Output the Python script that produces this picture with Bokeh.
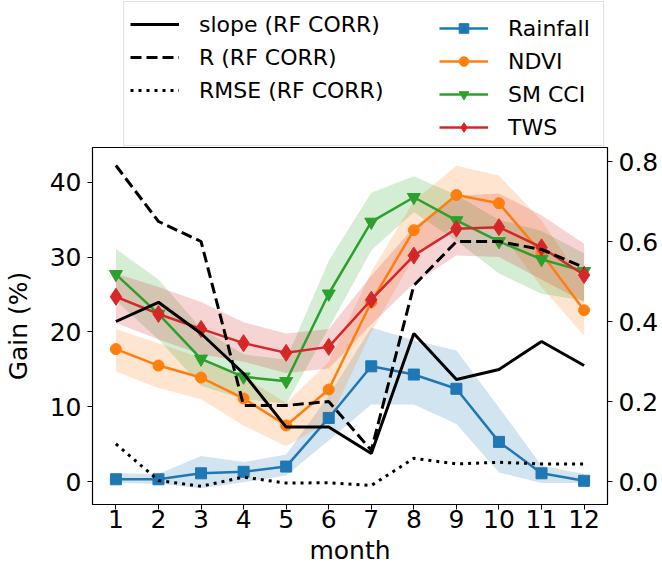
from bokeh.plotting import figure
from bokeh.layouts import column
from bokeh.models import (Range1d, LinearAxis, FixedTicker, NumeralTickFormatter,
                          Legend, LegendItem)
from bokeh.embed import file_html
from bokeh.resources import INLINE

months = [1, 2, 3, 4, 5, 6, 7, 8, 9, 10, 11, 12]

# Gain (%) series (left axis) with uncertainty bands
rainfall = [0.3, 0.3, 1.1, 1.3, 2.0, 8.5, 15.4, 14.3, 12.4, 5.3, 1.1, 0.1]
rainfall_hi = [1.1, 1.0, 3.4, 2.6, 3.6, 11.5, 20.6, 18.9, 17.5, 9.9, 2.1, 1.0]
rainfall_lo = [-0.2, -0.3, -0.9, -0.1, 0.8, 5.5, 10.3, 10.3, 7.7, 1.2, -0.2, -0.2]

ndvi = [17.7, 15.5, 13.9, 11.1, 7.5, 12.3, 24.0, 33.6, 38.3, 37.2, 30.5, 22.9]
ndvi_hi = [20.4, 18.5, 16.5, 14.0, 10.5, 16.0, 28.0, 37.5, 42.2, 40.9, 34.9, 26.5]
ndvi_lo = [14.7, 12.5, 11.0, 7.5, 4.7, 8.0, 20.0, 30.0, 34.5, 33.5, 26.0, 19.5]

smcci = [27.7, 22.4, 16.4, 14.0, 13.4, 25.1, 34.7, 38.0, 34.9, 32.1, 29.7, 28.1]
smcci_hi = [31.1, 27.0, 20.5, 17.0, 16.3, 29.5, 38.6, 40.8, 38.3, 35.0, 33.5, 30.5]
smcci_lo = [24.2, 19.0, 12.8, 11.0, 10.4, 20.5, 30.9, 36.0, 32.2, 27.8, 25.1, 24.2]

tws = [24.7, 22.4, 20.4, 18.5, 17.2, 18.0, 24.3, 30.2, 33.8, 34.0, 31.3, 27.6]
tws_hi = [27.8, 26.0, 24.0, 21.3, 19.8, 20.4, 27.5, 34.0, 38.2, 38.5, 35.6, 31.8]
tws_lo = [21.2, 19.0, 17.0, 16.0, 14.5, 15.1, 21.0, 26.5, 30.2, 30.0, 27.0, 24.0]

# RF CORR metrics (right axis)
slope = [0.40, 0.448, 0.37, 0.27, 0.136, 0.136, 0.07, 0.37, 0.255, 0.28, 0.35, 0.29]
r_corr = [0.79, 0.65, 0.60, 0.19, 0.19, 0.20, 0.078, 0.49, 0.60, 0.60, 0.58, 0.535]
rmse = [0.094, 0.0025, -0.012, 0.011, -0.004, -0.003, -0.01, 0.058, 0.044, 0.048, 0.044, 0.044]

left_ticks = [0, 10, 20, 30, 40]
right_ticks = [0.0, 0.2, 0.4, 0.6, 0.8]

FONT = "DejaVu Sans"
C_BLUE, C_ORANGE, C_GREEN, C_RED = "#1f77b4", "#ff7f0e", "#2ca02c", "#d62728"

series = [
    ("Rainfall", rainfall, rainfall_lo, rainfall_hi, C_BLUE, "square", 11),
    ("NDVI", ndvi, ndvi_lo, ndvi_hi, C_ORANGE, "circle", 11),
    ("SM CCI", smcci, smcci_lo, smcci_hi, C_GREEN, "inverted_triangle", 13),
    ("TWS", tws, tws_lo, tws_hi, C_RED, "diamond", 17),
]
black_lines = [
    ("slope (RF CORR)", slope, None),
    ("R (RF CORR)", r_corr, "11 5"),
    ("RMSE (RF CORR)", rmse, "3 5"),
]

TOP_H = 146

# ---------------- main chart ----------------
p = figure(width=662, height=568 - TOP_H, output_backend="svg", toolbar_location=None,
           x_range=Range1d(0.45, 12.55), y_range=Range1d(-3.07, 44.65),
           min_border_left=92, min_border_right=55, min_border_top=1,
           min_border_bottom=64)
p.extra_y_ranges = {"right": Range1d(-0.0575, 0.835)}
p.grid.visible = False
p.outline_line_color = "black"
p.outline_line_width = 1.2
p.background_fill_color = "white"
p.border_fill_color = "white"

for ax in (p.xaxis[0], p.yaxis[0]):
    ax.major_label_text_font = FONT
    ax.major_label_text_font_size = "25px"
    ax.major_label_text_color = "#000000"
    ax.axis_label_text_font = FONT
    ax.axis_label_text_font_size = "25px"
    ax.axis_label_text_font_style = "normal"
    ax.axis_label_text_color = "#000000"
    ax.minor_tick_line_color = None
    ax.major_tick_out = 5
    ax.major_tick_in = 0
    ax.major_tick_line_color = "black"
    ax.axis_line_color = "black"

p.xaxis.ticker = FixedTicker(ticks=months)
p.xaxis.axis_label = "month"
p.xaxis.major_label_standoff = 0
p.xaxis.axis_label_standoff = 5

p.yaxis.ticker = FixedTicker(ticks=left_ticks)
p.yaxis.axis_label = "Gain (%)"
p.yaxis.major_label_standoff = 6
p.yaxis.axis_label_standoff = 14

right_axis = LinearAxis(y_range_name="right",
                        ticker=FixedTicker(ticks=right_ticks),
                        formatter=NumeralTickFormatter(format="0.0"))
right_axis.major_label_text_font = FONT
right_axis.major_label_text_font_size = "25px"
right_axis.major_label_text_color = "#000000"
right_axis.minor_tick_line_color = None
right_axis.major_tick_out = 5
right_axis.major_tick_in = 0
right_axis.major_label_standoff = 6
right_axis.axis_line_color = "black"
p.add_layout(right_axis, "right")

for name, vals, lo, hi, col, mk, sz in series:
    p.varea(x=months, y1=lo, y2=hi, fill_color=col, fill_alpha=0.2)

for name, vals, lo, hi, col, mk, sz in series:
    p.line(months, vals, line_color=col, line_width=2.5)
    p.scatter(months, vals, marker=mk, size=sz, fill_color=col, line_color=col)

for name, vals, dash in black_lines:
    kw = {} if dash is None else {"line_dash": dash}
    p.line(months, vals, y_range_name="right", line_color="black", line_width=3, **kw)

# ---------------- legend strip above (frame aligned with the chart) ----------------
top = figure(width=662, height=TOP_H, output_backend="svg", toolbar_location=None,
             x_range=Range1d(0, 1), y_range=Range1d(0, 1),
             x_axis_type=None, y_axis_type=None,
             min_border_left=0, min_border_right=0, min_border_top=0, min_border_bottom=0)
top.grid.visible = False
top.outline_line_color = None
top.background_fill_color = "white"
top.border_fill_color = "white"

# legend proxies: one point each, placed outside the visible range
OFF = [-5]
items_left = []
for name, vals, dash in black_lines:
    kw = {} if dash is None else {"line_dash": dash}
    r = top.line(OFF, OFF, line_color="black", line_width=3, **kw)
    items_left.append(LegendItem(label=name, renderers=[r]))
blank = top.line(OFF, OFF, line_alpha=0)
items_left.append(LegendItem(label=" ", renderers=[blank]))

items_right = []
for name, vals, lo, hi, col, mk, sz in series:
    ln = top.line(OFF, OFF, line_color=col, line_width=2.5)
    sc = top.scatter(OFF, OFF, marker=mk, size=sz, fill_color=col, line_color=col)
    items_right.append(LegendItem(label=name, renderers=[ln, sc]))


def style_legend(lg):
    lg.label_text_font = FONT
    lg.label_text_font_size = "22px"
    lg.label_text_color = "#000000"
    lg.glyph_width = 49
    lg.glyph_height = 24
    lg.label_height = 32
    lg.label_standoff = 20
    lg.spacing = 1
    lg.padding = 6
    lg.margin = 0


legend_a = Legend(items=items_left, location=(31, 0))
style_legend(legend_a)
legend_a.label_width = 398
legend_a.border_line_color = "#c4c4c4"
legend_a.border_line_width = 1.5
legend_a.background_fill_color = "white"
legend_a.background_fill_alpha = 1.0

legend_b = Legend(items=items_right, location=(347, 3))
style_legend(legend_b)
legend_b.border_line_color = None
legend_b.background_fill_alpha = 0.0

top.add_layout(legend_a, "center")
top.add_layout(legend_b, "center")

layout = column(top, p, spacing=0)
open("out.html", "w").write(file_html(layout, INLINE))
